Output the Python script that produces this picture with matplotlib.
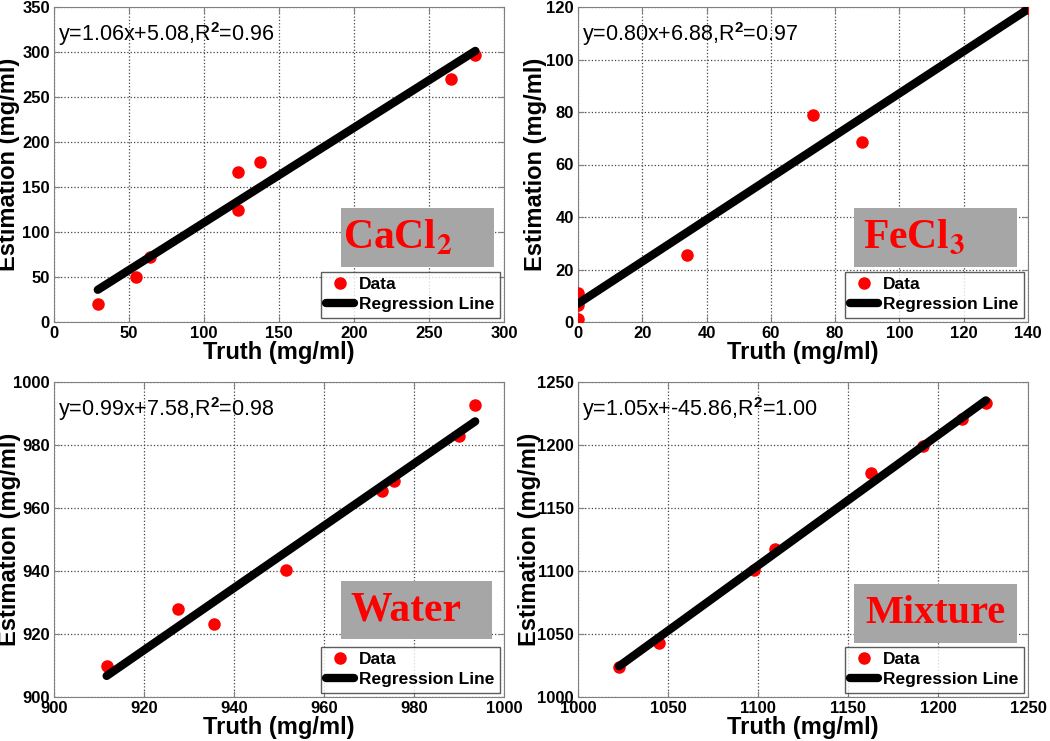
import matplotlib
matplotlib.use('Agg')
import matplotlib.pyplot as plt
import numpy as np

plt.rcParams['font.family'] = ['Liberation Sans', 'DejaVu Sans']
plt.rcParams['font.weight'] = 'bold'
plt.rcParams['mathtext.fontset'] = 'custom'
plt.rcParams['mathtext.rm'] = 'Liberation Sans'
plt.rcParams['mathtext.bf'] = 'Liberation Sans:bold'

## Données

# CaCl2
x_cacl2 = [29.2, 54.8, 64.3, 122.9, 122.9, 137.5, 264.4, 280.9]
y_cacl2 = [20.0, 49.9, 71.7, 124.5, 167.0, 177.8, 269.8, 296.7]
fit_x_cacl2 = [29.2, 280.9]
fit_y_cacl2 = [35.8, 301.2]

# FeCl3
x_fecl3 = [0.0, 0.0, 0.0, 33.8, 73.0, 88.4, 139.8]
y_fecl3 = [11.0, 6.6, 1.3, 25.5, 79.0, 68.7, 119.5]
fit_x_fecl3 = [0.0, 139.8]
fit_y_fecl3 = [7.0, 119.0]

# Water
x_water = [911.7, 927.6, 935.5, 951.5, 972.8, 975.5, 990.0, 993.6]
y_water = [909.9, 927.9, 923.3, 940.2, 965.4, 968.6, 982.9, 992.7]
fit_x_water = [911.7, 993.6]
fit_y_water = [906.7, 987.5]

# Mixture
x_mix = [1022.8, 1044.9, 1097.9, 1109.4, 1162.6, 1191.8, 1213.1, 1226.6]
y_mix = [1023.9, 1043.2, 1100.5, 1117.5, 1177.4, 1199.4, 1220.8, 1233.0]
fit_x_mix = [1022.8, 1226.6]
fit_y_mix = [1024.4, 1235.4]

equations = ['y=1.06x+5.08,R$^\\mathrm{2}$=0.96',
             'y=0.80x+6.88,R$^\\mathrm{2}$=0.97',
             'y=0.99x+7.58,R$^\\mathrm{2}$=0.98',
             'y=1.05x+-45.86,R$^\\mathrm{2}$=1.00']
names = ['CaCl$_\\mathbf{2}$', 'FeCl$_\\mathbf{3}$', 'Water', 'Mixture']
xlims = [(0, 300), (0, 140), (900, 1000), (1000, 1250)]
ylims = [(0, 350), (0, 120), (900, 1000), (1000, 1250)]
xticks = [np.arange(0, 301, 50), np.arange(0, 141, 20),
          np.arange(900, 1001, 20), np.arange(1000, 1251, 50)]
yticks = [np.arange(0, 351, 50), np.arange(0, 121, 20),
          np.arange(900, 1001, 20), np.arange(1000, 1251, 50)]

donnees = [(x_cacl2, y_cacl2, fit_x_cacl2, fit_y_cacl2),
           (x_fecl3, y_fecl3, fit_x_fecl3, fit_y_fecl3),
           (x_water, y_water, fit_x_water, fit_y_water),
           (x_mix, y_mix, fit_x_mix, fit_y_mix)]

# positions des axes en pixels (gauche, haut) ; figure 1050x741
W, H = 1050, 741
pos = [(54, 7), (578, 7), (54, 382), (578, 382)]
aw, ah = 450, 315
boites = [(0.637, 0.978), (0.613, 0.975), (0.637, 0.973), (0.613, 0.975)]
boites_y = [(0.175, 0.362), (0.175, 0.362), (0.183, 0.369), (0.173, 0.360)]
centre_nom = [0.763, 0.747, 0.781, 0.794]   # centre horizontal du nom (axes)
taille_nom = [30, 30, 30, 29]
pos_ylabel = [-0.076, -0.069, -0.073, -0.082]  # bord droit du label y

fig = plt.figure(figsize=(W/100, H/100), dpi=100)

for i in range(4):
    gx, hy = pos[i]
    ax = fig.add_axes([gx/W, 1-(hy+ah)/H, aw/W, ah/H])
    X, Y, FX, FY = donnees[i]
    ax.plot(X, Y, 'o', color='red', markersize=8, label='Data', zorder=3)
    ax.plot(FX, FY, '-', color='black', linewidth=6, label='Regression Line',
            solid_capstyle='round', zorder=4)
    ax.set_xlim(xlims[i])
    ax.set_ylim(ylims[i])
    ax.set_xticks(xticks[i], [str(v) for v in xticks[i]], fontweight='bold')
    ax.set_yticks(yticks[i], [str(v) for v in yticks[i]], fontweight='bold')
    ax.grid(True, linestyle=':', color='#444444', linewidth=0.9)
    ax.set_axisbelow(True)
    for s in ax.spines.values():
        s.set_color('#808080')
    ax.tick_params(direction='in', top=True, right=True, length=4,
                   color='#808080', labelsize=12, pad=3)
    ax.set_xlabel('Truth (mg/ml)', fontsize=17, fontweight='bold', labelpad=0)
    ax.set_ylabel('Estimation (mg/ml)', fontsize=17, fontweight='bold')
    ax.yaxis.set_label_coords(pos_ylabel[i], 0.5)
    ax.text(0.01, 0.915, equations[i], transform=ax.transAxes, fontsize=15.5,
            va='center', ha='left', fontweight='normal')
    bx0, bx1 = boites[i]
    by0, by1 = boites_y[i]
    ax.add_patch(plt.Rectangle((bx0, by0), bx1-bx0, by1-by0, transform=ax.transAxes,
                               facecolor='#a6a6a6', edgecolor='none', zorder=5))
    t = ax.text(centre_nom[i], (by0+by1)/2, names[i], transform=ax.transAxes,
                fontsize=taille_nom[i], fontweight='bold', color='red',
                family='Liberation Serif', ha='center', va='center', zorder=6)
    t.set_math_fontfamily('stix')
    leg = ax.legend(loc='lower right', prop={'weight': 'bold', 'size': 12.5},
                    frameon=True, fancybox=False, borderaxespad=0.25,
                    handlelength=1.6, handletextpad=0.3, borderpad=0.3,
                    labelspacing=0.3)
    leg.get_frame().set_edgecolor('#333333')
    leg.get_frame().set_linewidth(1.0)
    leg.set_zorder(7)

fig.savefig('out.png', dpi=100)
